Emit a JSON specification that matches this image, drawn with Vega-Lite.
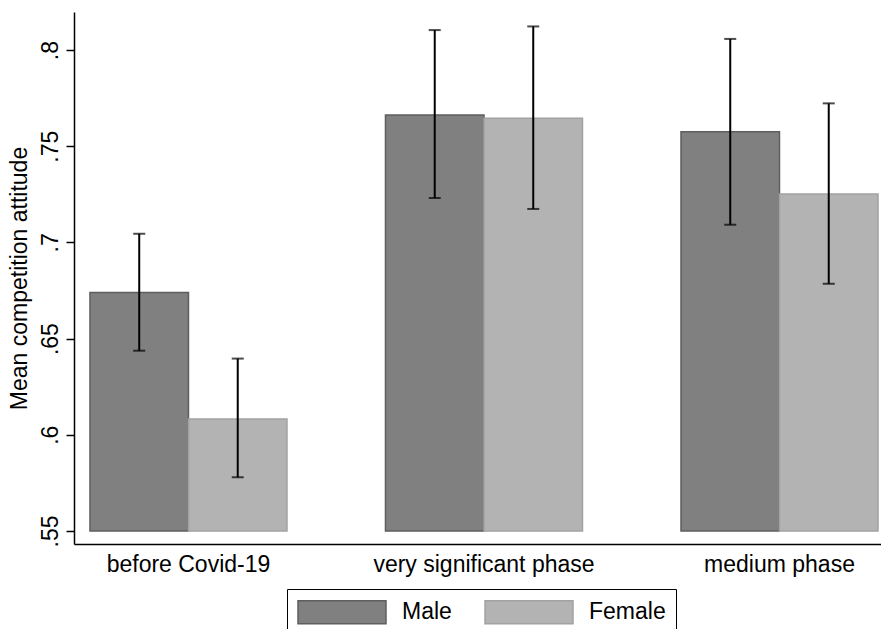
{
  "$schema": "https://vega.github.io/schema/vega-lite/v6.json",
  "autosize": "none",
  "padding": {"left": 74, "top": 12, "right": 0, "bottom": 85},
  "width": 807,
  "height": 532,
  "background": "white",
  "config": {
    "view": {"stroke": null},
    "font": "Liberation Sans",
    "axis": {"labelFont": "Liberation Sans", "titleFont": "Liberation Sans", "labelColor": "black", "titleColor": "black", "grid": false},
    "legend": {"labelFont": "Liberation Sans"}
  },
  "data": {
    "values": [
      {"phase": "before Covid-19", "gender": "Male", "mean": 0.6739, "lo": 0.6437, "hi": 0.7045},
      {"phase": "before Covid-19", "gender": "Female", "mean": 0.6082, "lo": 0.5779, "hi": 0.6396},
      {"phase": "very significant phase", "gender": "Male", "mean": 0.7662, "lo": 0.7231, "hi": 0.8104},
      {"phase": "very significant phase", "gender": "Female", "mean": 0.7645, "lo": 0.7174, "hi": 0.8123},
      {"phase": "medium phase", "gender": "Male", "mean": 0.7575, "lo": 0.7092, "hi": 0.8058},
      {"phase": "medium phase", "gender": "Female", "mean": 0.7252, "lo": 0.6785, "hi": 0.7723}
    ]
  },
  "encoding": {
    "x": {
      "field": "phase", "type": "nominal", "sort": null,
      "scale": {"paddingInner": 0.3333, "paddingOuter": 0.0321, "align": 0.842, "round": false},
      "axis": {"title": null, "ticks": false, "labelAngle": 0, "labelFontSize": 23, "labelPadding": 9, "labelLimit": 500, "domainColor": "black", "domainWidth": 1.5}
    },
    "xOffset": {
      "field": "gender", "type": "nominal", "sort": ["Male", "Female"],
      "scale": {"paddingInner": 0, "paddingOuter": 0, "round": false}
    }
  },
  "layer": [
    {
      "mark": {"type": "bar", "strokeWidth": 1.5},
      "encoding": {
        "y": {
          "field": "mean", "type": "quantitative",
          "scale": {"domain": [0.5432, 0.8198], "nice": false, "zero": false},
          "axis": {
            "title": "Mean competition attitude", "titleFontSize": 23, "titleFontWeight": "normal", "titlePadding": 8,
            "values": [0.55, 0.6, 0.65, 0.7, 0.75, 0.8],
            "labelExpr": "substring(format(datum.value, '.2~f'), 1)",
            "labelAngle": -90, "labelFontSize": 23, "labelPadding": 4,
            "tickSize": 8, "tickColor": "black", "tickWidth": 1.5,
            "domainColor": "black", "domainWidth": 1.5
          }
        },
        "y2": {"datum": 0.55},
        "fill": {
          "field": "gender", "type": "nominal", "sort": ["Male", "Female"],
          "scale": {"domain": ["Male", "Female"], "range": ["#808080", "#b3b3b3"]},
          "legend": {
            "title": null, "orient": "none", "legendX": 213, "legendY": 577, "direction": "horizontal",
            "strokeColor": "black", "padding": 10,
            "symbolType": "M-1,-0.96H6.333V0.96H-1Z", "symbolSize": 576, "symbolStrokeWidth": 1.5, "symbolOpacity": 1,
            "labelFontSize": 23, "labelOffset": 79, "columnPadding": 30, "labelColor": "black"
          }
        },
        "stroke": {
          "field": "gender", "type": "nominal", "sort": ["Male", "Female"],
          "scale": {"domain": ["Male", "Female"], "range": ["#5e5e5e", "#a2a2a2"]},
          "legend": {
            "title": null, "orient": "none", "legendX": 213, "legendY": 577, "direction": "horizontal",
            "strokeColor": "black", "padding": 10,
            "symbolType": "M-1,-0.96H6.333V0.96H-1Z", "symbolSize": 576, "symbolStrokeWidth": 1.5, "symbolOpacity": 1,
            "labelFontSize": 23, "labelOffset": 79, "columnPadding": 30, "labelColor": "black"
          }
        }
      }
    },
    {
      "mark": {"type": "rule", "color": "black", "strokeWidth": 2},
      "encoding": {
        "y": {"field": "lo", "type": "quantitative"},
        "y2": {"field": "hi"}
      }
    },
    {
      "mark": {"type": "tick", "color": "black", "size": 12, "thickness": 2, "orient": "horizontal"},
      "encoding": {"y": {"field": "lo", "type": "quantitative"}}
    },
    {
      "mark": {"type": "tick", "color": "black", "size": 12, "thickness": 2, "orient": "horizontal"},
      "encoding": {"y": {"field": "hi", "type": "quantitative"}}
    }
  ]
}
